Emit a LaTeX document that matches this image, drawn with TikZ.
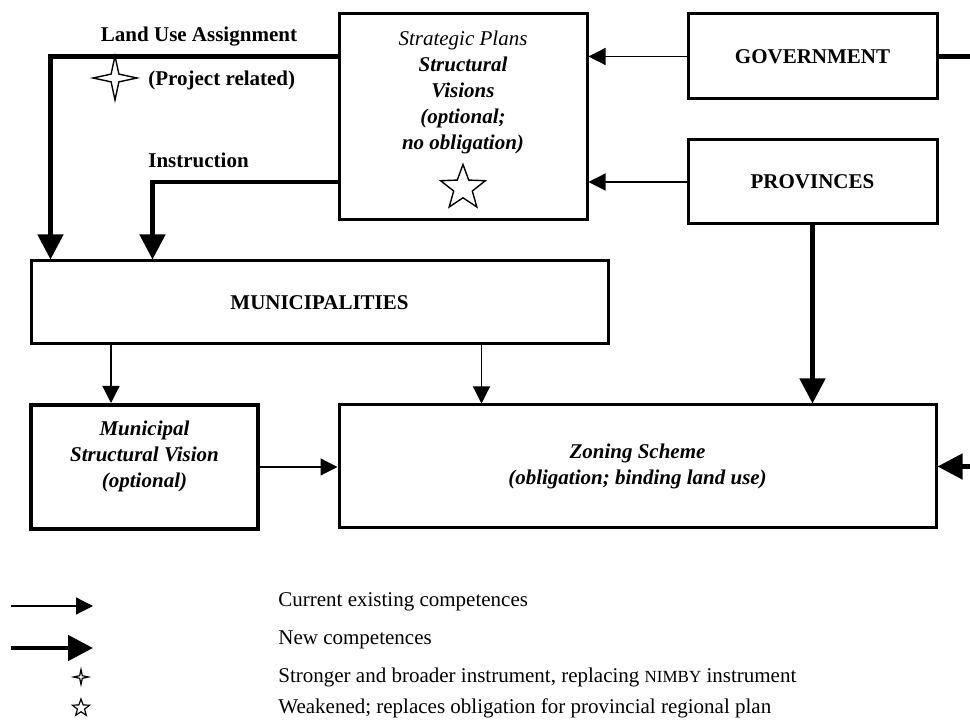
\documentclass[tikz,border=0pt]{standalone}
\usepackage{fontspec}
\setmainfont{Liberation Serif}
\usetikzlibrary{positioning,calc,arrows.meta,shapes.geometric}

\newcommand{\diafont}{\fontsize{10.5}{13}\selectfont}

\tikzset{
  box/.style={draw, line width=1.5pt, inner sep=0pt},
  lbl/.style={font=\diafont\bfseries},
  thinarrow/.style={line width=0.6pt, -{Triangle[length=8.5pt,width=8.5pt]}},
  thickarrow/.style={line width=2.3pt, -{Triangle[length=12.5pt,width=12.5pt]}},
  heavyline/.style={line width=2.3pt},
  fourstar/.style={draw, star, star points=4, star point ratio=4, line width=0.7pt, inner sep=0pt},
  fivestar/.style={draw, star, star points=5, star point ratio=2.4, line width=0.7pt, inner sep=0pt},
}

\begin{document}
\begin{tikzpicture}[x=0.5pt, y=-0.5pt]
\useasboundingbox (0,0) rectangle (970,726);

% strategic plans
\node (sp) [box, minimum width=124pt, minimum height=103pt] at (463,117) {};
\node (sp_text) [align=center, font=\diafont\itshape] at (463,92) {Strategic Plans\\\textbf{Structural}\\\textbf{Visions}\\\textbf{(optional;}\\\textbf{no obligation)}};
\node (sp_star) [fivestar, minimum size=23.5pt] at (463,188) {};

% government and provinces
\node (gov) [box, lbl, minimum width=124.5pt, minimum height=42.5pt] at (812.5,56.5) {GOVERNMENT};
\node (prov) [box, lbl, minimum width=124.5pt, minimum height=42pt, below=19pt of gov] {PROVINCES};

\draw [thinarrow] (gov.west) -- (gov.west -| sp.east);
\draw [thinarrow] (prov.west) -- (prov.west -| sp.east);

\coordinate (rim) at (970,0);
\draw [heavyline] (gov.east) -- (gov.east -| rim);

% municipalities
\node (muni) [box, lbl, minimum width=288.5pt, minimum height=41.5pt] at (319.5,302.5) {MUNICIPALITIES};

\node (lua_label) [lbl] at (199,37) {Land Use Assignment};
\node (pr_label) [lbl, anchor=west, inner sep=0pt] at (148,80) {(Project related)};
\node (lua_star) [fourstar, minimum size=22pt] at (115,78) {};
\node (instr_label) [lbl, anchor=west, inner sep=0pt] at (148,160) {Instruction};

\coordinate (lua_in) at ($(muni.north west)+(21,0)$);
\coordinate (instr_in) at ($(muni.north west)+(123,0)$);
\draw [thickarrow] (sp.west |- gov.west) -| (lua_in);
\draw [thickarrow] (sp.west |- prov.west) -| (instr_in);

% plans below
\node (msv) [box, line width=2pt, minimum width=113.5pt, minimum height=62pt] at (144.5,467) {};
\node (msv_text) [align=center, font=\diafont\bfseries\itshape] at (144.5,456) {Municipal\\Structural Vision\\(optional)};
\node (zon) [box, align=center, font=\diafont\bfseries\itshape, minimum width=298.5pt, minimum height=61.5pt] at (637.5,466.5) {Zoning Scheme\\(obligation; binding land use)};

\coordinate (msv_in) at ($(msv.north west)+(82,0)$);
\coordinate (zon_in) at ($(zon.north west)+(144,0)$);
\draw [thinarrow] (msv_in |- muni.south) -- (msv_in);
\draw [thinarrow] (zon_in |- muni.south) -- (zon_in);
\draw [thickarrow] (prov.south) -- (prov.south |- zon.north);
\draw [thinarrow] (msv.east) -- (msv.east -| zon.west);
\draw [thickarrow] (zon.east -| rim) -- (zon.east);

% key
\coordinate (key_thin_a) at (11,606);
\coordinate (key_thin_b) at (93,606);
\coordinate (key_thick_a) at (11,648);
\coordinate (key_thick_b) at (93,648);
\draw [thinarrow] (key_thin_a) -- (key_thin_b);
\draw [thickarrow] (key_thick_a) -- (key_thick_b);
\node (key_four) [fourstar, minimum size=7.5pt, line width=0.6pt] at (81,677) {};
\node (key_five) [fivestar, minimum size=9pt, line width=0.6pt] at (81,708) {};

\node (key_current) [anchor=west, inner sep=0pt, font=\diafont] at (278,602) {Current existing competences};
\node (key_new) [anchor=west, inner sep=0pt, font=\diafont] at (278,640) {New competences};
\node (key_stronger) [anchor=west, inner sep=0pt, font=\diafont] at (278,677) {Stronger and broader instrument, replacing {\fontsize{8.5}{10}\selectfont NIMBY} instrument};
\node (key_weak) [anchor=west, inner sep=0pt, font=\diafont] at (278,708) {Weakened; replaces obligation for provincial regional plan};
\end{tikzpicture}
\end{document}
